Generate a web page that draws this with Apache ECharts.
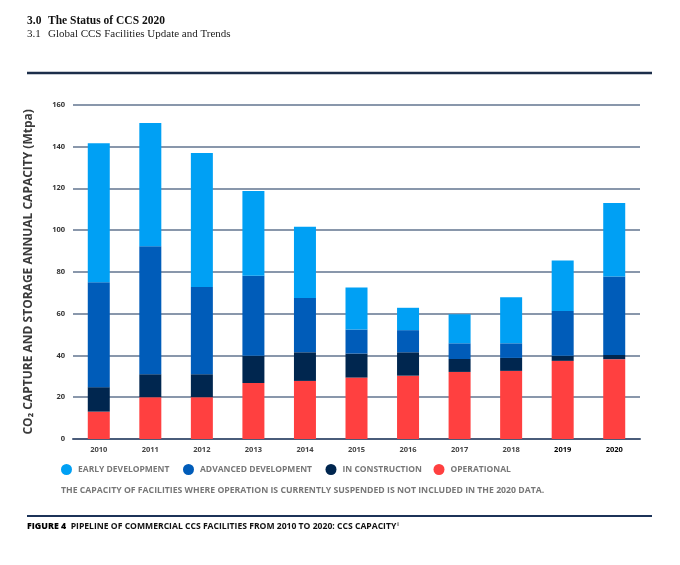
<!DOCTYPE html>
<html>
<head>
<meta charset="utf-8">
<script src="https://cdn.jsdelivr.net/npm/echarts@6/dist/echarts.min.js"></script>
<style>html,body{margin:0;padding:0;background:#fff;}#c{width:680px;height:565px;}</style>
</head>
<body>
<div id="c"></div>
<script>
var years = ['2010','2011','2012','2013','2014','2015','2016','2017','2018','2019','2020'];
var operational = [13.1, 20, 20, 26.8, 27.8, 29.4, 30.3, 32.1, 32.6, 37.4, 38.2];
var construction = [11.7, 11, 11, 13, 13.7, 11.5, 11.2, 6.2, 6.2, 2.4, 2];
var advanced = [50.2, 61.3, 41.8, 38.3, 26, 11.5, 10.6, 7.5, 7, 21.5, 37.6];
var early = [66.6, 58.9, 64.1, 40.6, 34.1, 20.1, 10.7, 13.9, 22.1, 24.1, 35.1];
var seriesNames = ['EARLY DEVELOPMENT','ADVANCED DEVELOPMENT','IN CONSTRUCTION','OPERATIONAL'];
var yTicks = {min: 0, max: 160, interval: 20};

var colors = {
  'EARLY DEVELOPMENT': '#00a0f4',
  'ADVANCED DEVELOPMENT': '#005cb9',
  'IN CONSTRUCTION': '#00264f',
  'OPERATIONAL': '#ff4040'
};
var FONT = '"Open Sans", sans-serif';
var chart = echarts.init(document.getElementById('c'), null, {renderer: 'canvas'});

function bar(name, data) {
  return {
    name: name, type: 'bar', stack: 'total', data: data, barWidth: 22,
    itemStyle: {color: colors[name]}, emphasis: {disabled: true}
  };
}
var legendLefts = [61, 183, 325.5, 433.5];
var legends = seriesNames.map(function (n, i) {
  return {
    data: [n], left: legendLefts[i], top: 464, icon: 'circle', itemWidth: 11, itemHeight: 11,
    itemGap: 0, padding: 0,
    textStyle: {color: '#777', fontSize: 8.5, fontWeight: 'bold', fontFamily: FONT, padding: [0, 0, 0, 1]},
    selectedMode: false
  };
});

chart.setOption({
  animation: false,
  color: seriesNames.map(function (n) { return colors[n]; }),
  grid: {left: 73, right: 40, top: 104.7, bottom: 126, containLabel: false},
  legend: legends,
  xAxis: {
    type: 'category', data: years,
    axisLine: {show: true, lineStyle: {color: '#4a5c7a', width: 2}},
    axisTick: {show: false},
    axisLabel: {
      margin: 7, fontSize: 7.5, fontWeight: 'bold', fontFamily: FONT,
      formatter: function (v) { return (v === '2019' || v === '2020') ? '{b|' + v + '}' : '{a|' + v + '}'; },
      rich: {
        a: {color: '#444', fontSize: 7.5, fontWeight: 'bold', fontFamily: FONT},
        b: {color: '#000', fontSize: 7.5, fontWeight: 'bold', fontFamily: FONT}
      }
    }
  },
  yAxis: {
    type: 'value', min: yTicks.min, max: yTicks.max, interval: yTicks.interval,
    name: 'CO\u2082 CAPTURE AND STORAGE ANNUAL CAPACITY (Mtpa)',
    nameLocation: 'middle', nameRotate: 90, nameGap: 38,
    nameTextStyle: {color: '#3a3a3a', fontSize: 12, fontWeight: 'bold', fontFamily: FONT},
    axisLine: {show: false}, axisTick: {show: false},
    axisLabel: {margin: 8, color: '#333', fontSize: 7.5, fontWeight: 'bold', fontFamily: FONT},
    splitLine: {lineStyle: {color: '#62748f', width: 1.5}}
  },
  series: [
    bar('OPERATIONAL', operational),
    bar('IN CONSTRUCTION', construction),
    bar('ADVANCED DEVELOPMENT', advanced),
    bar('EARLY DEVELOPMENT', early)
  ],
  graphic: [
    {type: 'text', left: 27, top: 15, style: {text: '3.0', font: 'bold 11.5px "Liberation Serif", serif', fill: '#111'}},
    {type: 'text', left: 48, top: 15, style: {text: 'The Status of CCS 2020', font: 'bold 11.5px "Liberation Serif", serif', fill: '#111'}},
    {type: 'text', left: 27, top: 29, style: {text: '3.1', font: '11px "Liberation Serif", serif', fill: '#222'}},
    {type: 'text', left: 48, top: 29, style: {text: 'Global CCS Facilities Update and Trends', font: '11px "Liberation Serif", serif', fill: '#222'}},
    {type: 'line', shape: {x1: 27, y1: 73, x2: 652, y2: 73}, style: {stroke: '#1c2e4a', lineWidth: 2.5}},
    {type: 'text', left: 61, top: 486, style: {text: 'THE CAPACITY OF FACILITIES WHERE OPERATION IS CURRENTLY SUSPENDED IS NOT INCLUDED IN THE 2020 DATA.', font: 'bold 8.7px "Open Sans", sans-serif', fill: '#777'}},
    {type: 'line', shape: {x1: 27, y1: 516, x2: 652, y2: 516}, style: {stroke: '#1c3358', lineWidth: 2}},
    {type: 'text', left: 27, top: 522, style: {
      text: '{f|FIGURE 4}{p|  PIPELINE OF COMMERCIAL CCS FACILITIES FROM 2010 TO 2020: CCS CAPACITY}{s|i}',
      rich: {
        f: {font: '800 8.8px "Open Sans", sans-serif', fill: '#000'},
        p: {font: 'bold 8.6px "Open Sans", sans-serif', fill: '#111'},
        s: {font: 'bold 5px "Open Sans", sans-serif', fill: '#111', verticalAlign: 'top', padding: [0, 0, 4, 1]}
      }
    }}
  ]
});
</script>
</body>
</html>
